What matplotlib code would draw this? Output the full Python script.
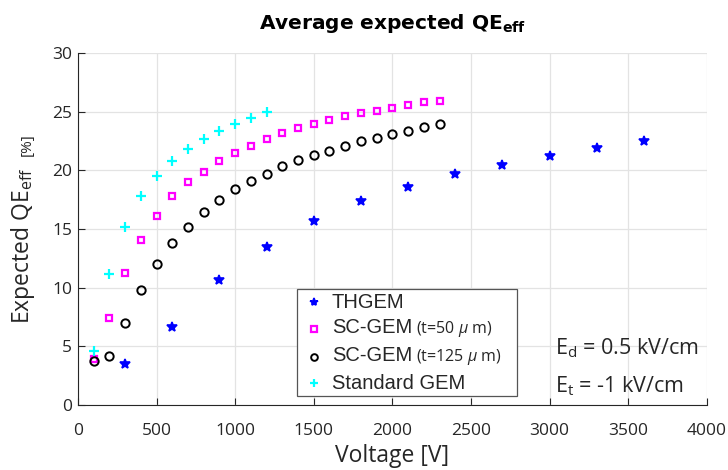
import matplotlib
matplotlib.use("Agg")
import matplotlib.pyplot as plt
from matplotlib.lines import Line2D
from matplotlib.offsetbox import (AnchoredOffsetbox, VPacker, HPacker,
                                  TextArea, DrawingArea)

# ---- data ----
thgem_v = [300, 600, 900, 1200, 1500, 1800, 2100, 2400, 2700, 3000, 3300, 3600]
thgem_qe = [3.5, 6.7, 10.7, 13.5, 15.7, 17.4, 18.6, 19.7, 20.5, 21.2, 21.9, 22.5]

sc50_v = [100, 200, 300, 400, 500, 600, 700, 800, 900, 1000, 1100, 1200,
          1300, 1400, 1500, 1600, 1700, 1800, 1900, 2000, 2100, 2200, 2300]
sc50_qe = [3.9, 7.4, 11.3, 14.1, 16.1, 17.8, 19.0, 19.9, 20.8, 21.5, 22.1, 22.65,
           23.2, 23.6, 23.95, 24.3, 24.6, 24.9, 25.1, 25.35, 25.6, 25.8, 25.9]

sc125_v = sc50_v
sc125_qe = [3.75, 4.2, 7.0, 9.8, 12.0, 13.8, 15.2, 16.45, 17.5, 18.4, 19.1, 19.7,
            20.35, 20.9, 21.3, 21.7, 22.1, 22.5, 22.8, 23.1, 23.4, 23.7, 23.95]

std_v = [100, 200, 300, 400, 500, 600, 700, 800, 900, 1000, 1100, 1200]
std_qe = [4.65, 11.2, 15.2, 17.8, 19.5, 20.8, 21.85, 22.7, 23.4, 24.0, 24.5, 24.95]

label_main = ["THGEM", "SC-GEM", "SC-GEM", "Standard GEM"]
label_suffix = ["", "(t=50 $\\mu$ m)", "(t=125 $\\mu$ m)", ""]
xticks = [0, 500, 1000, 1500, 2000, 2500, 3000, 3500, 4000]
yticks = [0, 5, 10, 15, 20, 25, 30]

plt.rcParams['font.family'] = ['Open Sans', 'DejaVu Sans']
plt.rcParams['mathtext.fontset'] = 'custom'
plt.rcParams['mathtext.rm'] = 'Open Sans'
plt.rcParams['mathtext.it'] = 'Open Sans:italic'
plt.rcParams['mathtext.bf'] = 'DejaVu Sans:bold'

TXT = '#262626'
LEG_FONT = 'Liberation Sans'
LEG_FS = 14.5
SUF_FS = 11.5

fig = plt.figure(figsize=(7.28, 4.70), dpi=100)
ax = fig.add_axes([0.107, 0.138, 0.864, 0.749])

styles = [
    dict(marker='*', color='#0000ff', markersize=7.5, markeredgewidth=1.2),
    dict(marker='s', color='#ff00ff', markerfacecolor='none', markersize=5, markeredgewidth=1.6),
    dict(marker='o', color='black', markerfacecolor='none', markersize=6, markeredgewidth=1.4),
    dict(marker='+', color='#00ffff', markersize=7, markeredgewidth=1.6),
]
series = [(thgem_v, thgem_qe), (sc50_v, sc50_qe), (sc125_v, sc125_qe), (std_v, std_qe)]
for (xv, yv), st in zip(series, styles):
    ax.plot(xv, yv, linestyle='none', **st)

ax.set_xlim(0, 4000)
ax.set_ylim(0, 30)
ax.set_xticks(xticks)
ax.set_yticks(yticks)
ax.grid(True, color='#e3e3e3', linewidth=0.9)
ax.set_axisbelow(True)
for s in ['top', 'right']:
    ax.spines[s].set_visible(False)
for s in ['left', 'bottom']:
    ax.spines[s].set_color(TXT)
    ax.spines[s].set_linewidth(0.8)
ax.tick_params(direction='in', length=5, width=0.8, color=TXT,
               labelsize=12.5, labelcolor=TXT)
ax.tick_params(axis='x', pad=13)
ax.tick_params(axis='y', pad=4)

ax.set_xlabel("Voltage [V]", fontsize=16.5, color=TXT)
ax.xaxis.set_label_coords(0.5, -0.11)

ax.text(-0.087, 0.452, "Expected QE$_{\\mathregular{eff}}$", transform=ax.transAxes,
        rotation=90, ha='center', va='center', fontsize=16.5, color=TXT)
ax.text(-0.080, 0.739, "[%]", transform=ax.transAxes,
        rotation=90, ha='center', va='center', fontsize=11, color=TXT)

ax.set_title("Average expected QE$_{\\mathbf{eff}}$", fontsize=14.5, fontweight='bold',
             family='DejaVu Sans', pad=17)

# ---- custom legend (main label + smaller suffix) ----
rows = []
for st, m, suf in zip(styles, label_main, label_suffix):
    da = DrawingArea(10, 10, 0, 0)
    kw = dict(st)
    kw['markersize'] = kw['markersize'] * 0.8
    da.add_artist(Line2D([5], [5], linestyle='none', **kw))
    txts = [TextArea(m, textprops=dict(family=LEG_FONT, size=LEG_FS, color=TXT))]
    if suf:
        txts.append(TextArea(suf, textprops=dict(size=SUF_FS, color=TXT)))
    tbox = HPacker(children=txts, align='baseline', pad=0, sep=3)
    inner = HPacker(children=[da, tbox], align='center', pad=0, sep=8)
    row = HPacker(children=[DrawingArea(5, 1), inner, DrawingArea(9, 1)],
                  align='center', pad=0, sep=0)
    rows.append(row)
vbox = VPacker(children=rows, align='left', pad=0, sep=4.9)
ab = AnchoredOffsetbox(loc='lower left', child=vbox, pad=0.22, borderpad=0,
                       frameon=True, bbox_to_anchor=(0.348, 0.026),
                       bbox_transform=ax.transAxes)
ab.patch.set_boxstyle("square", pad=0)
ab.patch.set_edgecolor('#555555')
ab.patch.set_linewidth(0.9)
ab.patch.set_facecolor('white')
ax.add_artist(ab)

ax.text(0.758, 0.145, "E$_{\\mathregular{d}}$ = 0.5 kV/cm", transform=ax.transAxes,
        fontsize=15.5, color=TXT)
ax.text(0.758, 0.035, "E$_{\\mathregular{t}}$ = -1 kV/cm", transform=ax.transAxes,
        fontsize=15.5, color=TXT)

fig.savefig("out.png", dpi=100)
